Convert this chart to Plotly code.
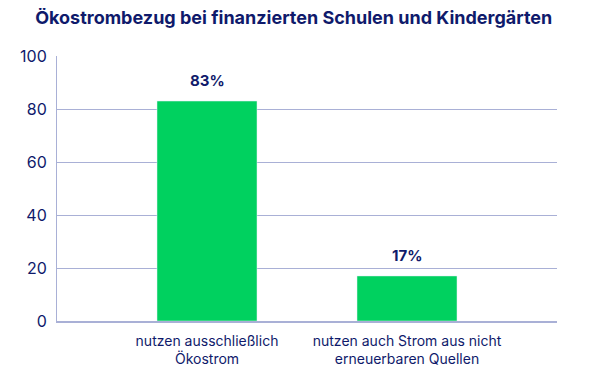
import plotly.graph_objects as go

categories = ["nutzen ausschließlich<br>Ökostrom", "nutzen auch Strom aus nicht<br>erneuerbaren Quellen"]
values = [83, 17]
labels = ["83%", "17%"]
y_ticks = [0, 20, 40, 60, 80, 100]

navy = "#0f1a6b"
grid = "#a9b0d6"
green = "#00d15f"

fig = go.Figure(go.Bar(
    x=categories, y=values,
    marker=dict(color=green), width=0.5,
))
for c, v, t in zip(categories, values, labels):
    fig.add_annotation(x=c, y=v, text="<b>" + t + "</b>", showarrow=False,
                       yanchor="bottom", yshift=9,
                       font=dict(family="Inter, sans-serif", size=15, color=navy))
fig.update_layout(
    width=599, height=378,
    margin=dict(l=49, r=50, t=48, b=65),
    plot_bgcolor="white", paper_bgcolor="white",
    title=dict(text="<b>Ökostrombezug bei finanzierten Schulen und Kindergärten</b>",
               x=0.477, xanchor="center", y=0.974, yanchor="middle",
               font=dict(family="Inter, sans-serif", size=18, color=navy)),
    showlegend=False,
)
fig.update_yaxes(range=[0, 100], tickvals=y_ticks, showgrid=True, gridcolor=grid, gridwidth=1,
                 showline=True, linecolor=grid, linewidth=1, zeroline=False,
                 tickfont=dict(family="Inter, sans-serif", size=16, color=navy), ticks="", ticklen=0,
                 ticklabelstandoff=6)
fig.update_xaxes(range=[-0.75, 1.75], showline=True, linecolor=grid, linewidth=2, showgrid=False,
                 tickfont=dict(family="Inter, sans-serif", size=14, color=navy), ticks="",
                 ticklabelstandoff=6)
fig.write_html("out.html")
